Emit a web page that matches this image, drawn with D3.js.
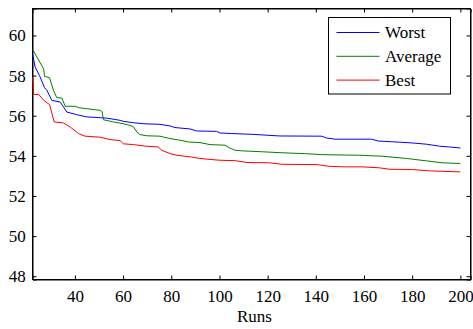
<!DOCTYPE html>
<html><head><meta charset="utf-8">
<script src="https://d3js.org/d3.v7.min.js"></script>
<style>body{margin:0;background:#fff}svg{display:block}text{font-family:"Liberation Serif","Times New Roman",serif}</style>
</head><body>
<svg id="c" width="473" height="329"></svg>
<script>
const xTicks = [40,60,80,100,120,140,160,180,200];
const yTicks = [48,50,52,54,56,58,60];
const seriesNames = ["Worst","Average","Best"];
const seriesColors = ["#0000ff","#008000","#ff0000"];
const worst = [[22.5,59.05],[23.5,58.42],[25.3,58.0],[27.4,57.4],[28.4,57.26],[30.4,56.77],[33.9,56.68],[36.7,56.18],[40.8,56.05],[45,55.94],[50.5,55.9],[53.2,55.88],[58.75,55.77],[60.1,55.72],[64.3,55.65],[68.4,55.6],[75.3,55.57],[79.5,55.49],[81.5,55.41],[87.8,55.34],[90.5,55.24],[98.8,55.22],[100.2,55.14],[105.1,55.11],[114,55.07],[125.1,54.99],[142.4,54.98],[144.4,54.89],[147.9,54.83],[163.1,54.83],[165.8,54.74],[174.8,54.68],[180.3,54.64],[185.9,54.58],[191.4,54.48],[195.5,54.44],[200,54.39]];
const average = [[22.5,59.29],[27,58.34],[27.4,57.96],[29.45,57.9],[31.1,57.26],[32.5,56.9],[34.6,56.88],[35.95,56.47],[40.1,56.47],[41.5,56.4],[45,56.35],[50.5,56.27],[51.3,56.2],[51.8,55.8],[56,55.69],[60.1,55.6],[63.6,55.49],[64.3,55.45],[65.7,55.19],[67,55.06],[69.8,55.0],[75.3,54.98],[76.7,54.94],[79.5,54.86],[83.6,54.78],[87.1,54.69],[91.9,54.66],[96.1,54.56],[102.3,54.53],[104.3,54.39],[106.4,54.28],[109.2,54.25],[118.2,54.2],[126.4,54.15],[135.4,54.11],[142.4,54.06],[152,54.04],[158.2,54.03],[167.9,53.98],[177.6,53.87],[185.9,53.75],[192.8,53.65],[200,53.62]];
const best = [[22.5,57.93],[22.9,57.06],[25,57.06],[27,56.77],[29.5,56.55],[31.4,55.69],[35.25,55.64],[38,55.44],[41.5,55.11],[44.2,54.98],[50.5,54.93],[54.6,54.81],[58.75,54.76],[60.1,54.6],[64.3,54.56],[69.8,54.48],[74.6,54.44],[76,54.28],[79.5,54.11],[82.3,54.03],[87.8,53.95],[91.9,53.87],[96.1,53.82],[100.2,53.78],[106.4,53.76],[111.3,53.67],[120.9,53.65],[125.8,53.58],[141,53.56],[145.1,53.48],[152,53.45],[159.6,53.45],[166.5,53.4],[170.7,53.33],[179.7,53.32],[187.2,53.25],[200,53.2]];
const xLabel = "Runs";

const svg = d3.select("#c");
const L=32.5, R=470.5, T=8.5, B=279.5;
const x = d3.scaleLinear().domain([22.4,204.2]).range([L,R]);
const y = d3.scaleLinear().domain([47.836,61.344]).range([B,T]);
const fs = 17;

svg.append("rect").attr("x",L).attr("y",T).attr("width",R-L).attr("height",B-T).attr("fill","#fff").attr("stroke","#000").attr("stroke-width",1);

const tl = 4;
// bottom axis
const gx = svg.append("g").attr("transform",`translate(0,${B})`)
  .call(d3.axisBottom(x).tickValues(xTicks).tickSize(-tl).tickPadding(10).tickFormat(d3.format("d")));
const gxt = svg.append("g").attr("transform",`translate(0,${T})`)
  .call(d3.axisTop(x).tickValues(xTicks).tickSize(-tl).tickFormat(""));
const gy = svg.append("g").attr("transform",`translate(${L},0)`)
  .call(d3.axisLeft(y).tickValues(yTicks).tickSize(-tl).tickPadding(6).tickFormat(d3.format("d")));
const gyr = svg.append("g").attr("transform",`translate(${R},0)`)
  .call(d3.axisRight(y).tickValues(yTicks).tickSize(-tl).tickFormat(""));
[gx,gxt,gy,gyr].forEach(g=>{
  g.select(".domain").attr("stroke","#000");
  g.selectAll(".tick line").attr("stroke","#000");
  g.selectAll("text").attr("font-size",fs).attr("fill","#000").attr("font-family","Liberation Serif");
});
gy.selectAll("text").attr("dx","-0.05em");

const line = d3.line().x(d=>x(d[0])).y(d=>y(d[1]));
[worst,average,best].forEach((s,i)=>{
  svg.append("path").attr("d",line(s)).attr("fill","none").attr("stroke",seriesColors[i]).attr("stroke-width",1);
});

svg.append("text").attr("x",(L+R)/2 + 3).attr("y",322).attr("text-anchor","middle").attr("font-size",fs).text(xLabel);

// legend
const lg = svg.append("g");
lg.append("rect").attr("x",328.5).attr("y",17.5).attr("width",122).attr("height",76.5).attr("fill","#fff").attr("stroke","#000").attr("stroke-width",1);
seriesNames.forEach((n,i)=>{
  const cy = 32.5 + i*23.8;
  lg.append("line").attr("x1",336.5).attr("x2",379.5).attr("y1",cy).attr("y2",cy).attr("stroke",seriesColors[i]).attr("stroke-width",1);
  lg.append("text").attr("x",385).attr("y",cy).attr("dy","0.35em").attr("font-size",fs).text(n);
});
</script>
</body></html>
